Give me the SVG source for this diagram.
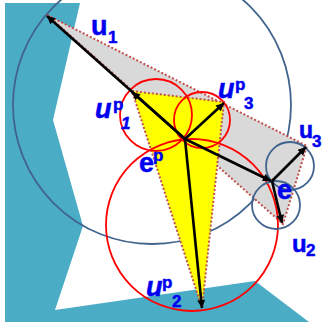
<svg xmlns="http://www.w3.org/2000/svg" width="324" height="329" viewBox="0 0 324 329">
<style>
.dot{fill:none;stroke:#c0504d;stroke-width:2;stroke-dasharray:2 2}
.rc{fill:none;stroke:#ff0000;stroke-width:1.8}
.bc{fill:none;stroke:#41648f;stroke-width:1.8}
.ar{stroke:#000;stroke-width:2.6;fill:none;marker-end:url(#ah)}
.lb{font-family:"Liberation Sans",Arial,sans-serif;font-weight:bold;fill:#0000f0;stroke:#0000f0;stroke-width:0.5}
.m{font-size:27px}
.s{font-size:17px}
.i{font-style:italic}
</style>
<defs>
<marker id="ah" viewBox="0 0 10 10" refX="10" refY="5" markerWidth="9" markerHeight="8" markerUnits="userSpaceOnUse" orient="auto">
<path d="M0,0 L10,5 L0,10 z" fill="#000"/>
</marker>
</defs>
<rect width="324" height="329" fill="#fff"/>
<g id="obstacle">
<polygon points="5,3 80,3 53,120 83,226 55,310 255,281 309,322 5,322" fill="#4bacc6"/>
</g>
<g id="big-blue-circle"><circle class="bc" cx="152" cy="105" r="139"/></g>
<g id="cone-u">
<polygon points="47,15 307,146 283,224" fill="#d9d9d9"/>
<polygon class="dot" points="47,15 307,146 283,224"/>
</g>
<g id="cone-up">
<polygon points="132,91 224,102 202,308" fill="#ffff00"/>
<polygon class="dot" points="132,91 224,102 202,308"/>
</g>
<g id="red-circles">
<circle class="rc" cx="192" cy="225" r="86"/>
<circle class="rc" cx="156" cy="115" r="36"/>
<circle class="rc" cx="202" cy="120" r="28"/>
</g>
<g id="blue-circles">
<circle class="bc" cx="290" cy="166" r="24"/>
<circle class="bc" cx="276" cy="205" r="24"/>
</g>
<g id="connectors">
<line class="ar" x1="185" y1="139" x2="47" y2="16"/>
<line class="ar" x1="185" y1="139" x2="132" y2="92"/>
<line class="ar" x1="185" y1="139" x2="224" y2="103"/>
<line class="ar" x1="185" y1="139" x2="202" y2="308"/>
<line class="ar" x1="185" y1="139" x2="271" y2="181"/>
<line class="ar" x1="272" y1="181" x2="306" y2="147"/>
<line class="ar" x1="272" y1="181" x2="282" y2="223"/>
</g>
<g id="label-u1"><text class="lb"><tspan class="m" x="91" y="35">u</tspan><tspan class="s" x="108" y="43">1</tspan></text></g>
<g id="label-up1"><text class="lb"><tspan class="m i" x="95" y="118">u</tspan><tspan class="s" x="113" y="110">p</tspan><tspan class="s i" x="121" y="129">1</tspan></text></g>
<g id="label-up3"><text class="lb"><tspan class="m i" x="218" y="98">u</tspan><tspan class="s" x="235" y="90">p</tspan><tspan class="s" x="244" y="109">3</tspan></text></g>
<g id="label-u3"><text class="lb"><tspan x="299" y="138" style="font-size:23px">u</tspan><tspan class="s" x="312" y="147">3</tspan></text></g>
<g id="label-ep"><text class="lb"><tspan class="m" x="139" y="172">e</tspan><tspan class="s" x="153" y="161">p</tspan></text></g>
<g id="label-e"><text class="lb m" x="277" y="199">e</text></g>
<g id="label-u2"><text class="lb"><tspan x="292" y="252" style="font-size:24px">u</tspan><tspan class="s" x="306" y="256">2</tspan></text></g>
<g id="label-up2"><text class="lb"><tspan class="m i" x="146" y="296">u</tspan><tspan class="s" x="162" y="288">p</tspan><tspan class="s" x="172" y="307">2</tspan></text></g>
</svg>
